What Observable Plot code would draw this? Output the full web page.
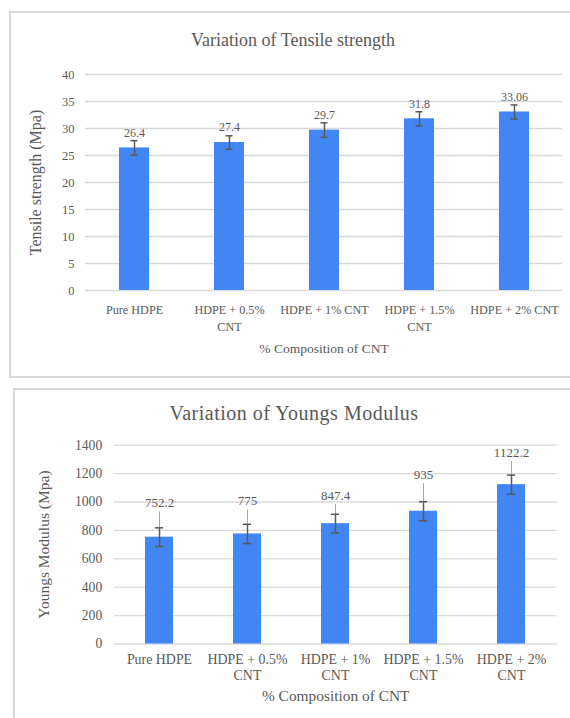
<!DOCTYPE html>
<html>
<head>
<meta charset="utf-8">
<script src="https://cdn.jsdelivr.net/npm/d3@7"></script>
<script src="https://cdn.jsdelivr.net/npm/@observablehq/plot@0.6"></script>
<style>
  html, body { margin: 0; padding: 0; background: #ffffff; overflow: hidden; }
  #page { position: relative; width: 570px; height: 718px; overflow: hidden; background: #fff; }
  .box { position: absolute; border: 2px solid #d9d9d9; box-sizing: border-box; }
  .chart { position: absolute; left: 0; }
  .title { position: absolute; text-align: center; font-family: "Liberation Serif", "Times New Roman", serif; color: #595959; line-height: 1; white-space: nowrap; }
</style>
</head>
<body>
<div id="page">
  <div class="box" style="left:9px; top:11px; width:620px; height:367px;"></div>
  <div class="box" style="left:13px; top:388px; width:620px; height:360px;"></div>
  <div id="c1" class="chart" style="top:0px;"></div>
  <div id="c2" class="chart" style="top:380px;"></div>
  <div class="title" style="left:93px; width:400px; top:31px; font-size:18px;">Variation of Tensile strength</div>
  <div class="title" style="left:94px; width:400px; top:403px; font-size:20px; letter-spacing:0.5px;">Variation of Youngs Modulus</div>
</div>
<script>
// ---- data ----
const categories = ["Pure HDPE", "HDPE + 0.5% CNT", "HDPE + 1% CNT", "HDPE + 1.5% CNT", "HDPE + 2% CNT"];
const tensileTickLabels = ["Pure HDPE", "HDPE + 0.5%\nCNT", "HDPE + 1% CNT", "HDPE + 1.5%\nCNT", "HDPE + 2% CNT"];
const modulusTickLabels = ["Pure HDPE", "HDPE + 0.5%\nCNT", "HDPE + 1%\nCNT", "HDPE + 1.5%\nCNT", "HDPE + 2%\nCNT"];
const tensile = [26.4, 27.4, 29.7, 31.8, 33.06];
const tensileErr = [1.35, 1.25, 1.35, 1.3, 1.3];
const modulus = [752.2, 775, 847.4, 935, 1122.2];
const modulusErr = [66, 68, 66, 67, 67];
const modulusExt = [178, 167, 135, 195, 161];
const tensileTicks = [0, 5, 10, 15, 20, 25, 30, 35, 40];
const modulusTicks = [0, 200, 400, 600, 800, 1000, 1200, 1400];

const BLUE = "#4285F4";
const TXT = "#595959";
const GRID = "#d9d9d9";
const FONT = "'Liberation Serif', 'Times New Roman', serif";

const t = categories.map((c, i) => ({c, v: tensile[i], e: tensileErr[i]}));
const m = categories.map((c, i) => ({c, v: modulus[i], e: modulusErr[i], x: modulusExt[i]}));

const chart1 = Plot.plot({
  width: 570, height: 378,
  marginLeft: 85, marginRight: 8, marginTop: 74, marginBottom: 88,
  style: {fontFamily: FONT, color: TXT, background: "transparent", overflow: "visible"},
  x: {domain: categories, paddingInner: 0.686, paddingOuter: 0.343, label: null},
  y: {domain: [0, 40], label: null},
  marks: [
    Plot.gridY(tensileTicks, {stroke: GRID, strokeOpacity: 1, strokeWidth: 1.3}),
    Plot.axisY(tensileTicks, {tickSize: 0, tickPadding: 11, fontSize: 12.5, label: null, tickFormat: d => String(d)}),
    Plot.axisX({tickSize: 0, tickPadding: 12, fontSize: 12.2, lineHeight: 1.37, label: null,
      tickFormat: c => tensileTickLabels[categories.indexOf(c)]}),
    Plot.barY(t, {x: "c", y: "v", fill: BLUE}),
    Plot.ruleX(t, {x: "c", y1: d => d.v - d.e, y2: d => d.v + d.e, stroke: TXT, strokeWidth: 1.5}),
    Plot.tickY(t, {x: "c", y: d => d.v - d.e, stroke: TXT, strokeWidth: 1.5, insetLeft: 11.5, insetRight: 11.5}),
    Plot.tickY(t, {x: "c", y: d => d.v + d.e, stroke: TXT, strokeWidth: 1.5, insetLeft: 11.5, insetRight: 11.5}),
    Plot.text(t, {x: "c", y: "v", text: d => String(d.v), dy: -15, lineAnchor: "middle", fontSize: 12, fill: TXT}),
    Plot.text(["Tensile strength (Mpa)"], {text: d => d, frameAnchor: "left", textAnchor: "middle", rotate: -90, dx: -50, lineAnchor: "middle", fontSize: 16, fill: TXT}),
    Plot.text(["% Composition of CNT"], {text: d => d, frameAnchor: "bottom", dy: 58, lineAnchor: "middle", fontSize: 13.5, fill: TXT})
  ]
});
document.getElementById("c1").appendChild(chart1);

const chart2 = Plot.plot({
  width: 570, height: 338,
  marginLeft: 113.7, marginRight: 13.3, marginTop: 64.7, marginBottom: 74.5,
  style: {fontFamily: FONT, color: TXT, background: "transparent", overflow: "visible"},
  x: {domain: categories, paddingInner: 0.687, paddingOuter: 0.3435, label: null},
  y: {domain: [0, 1400], label: null},
  marks: [
    Plot.gridY(modulusTicks, {stroke: GRID, strokeOpacity: 1, strokeWidth: 1.3}),
    Plot.axisY(modulusTicks, {tickSize: 0, tickPadding: 12, fontSize: 13.6, label: null, tickFormat: d => String(d)}),
    Plot.axisX({tickSize: 0, tickPadding: 9, fontSize: 13.9, lineHeight: 1.13, label: null,
      tickFormat: c => modulusTickLabels[categories.indexOf(c)]}),
    Plot.barY(m, {x: "c", y: "v", fill: BLUE}),
    Plot.ruleX(m, {x: "c", y1: "v", y2: d => d.v + d.x, stroke: "#a6a6a6", strokeWidth: 1}),
    Plot.ruleX(m, {x: "c", y1: d => d.v - d.e, y2: d => d.v + d.e, stroke: TXT, strokeWidth: 1.5}),
    Plot.tickY(m, {x: "c", y: d => d.v - d.e, stroke: TXT, strokeWidth: 1.5, insetLeft: 9.9, insetRight: 9.9}),
    Plot.tickY(m, {x: "c", y: d => d.v + d.e, stroke: TXT, strokeWidth: 1.5, insetLeft: 9.9, insetRight: 9.9}),
    Plot.text(m, {x: "c", y: d => d.v + d.x, text: d => String(d.v), dy: -9, lineAnchor: "middle", fontSize: 13, fill: TXT}),
    Plot.text(["Youngs Modulus (Mpa)"], {text: d => d, frameAnchor: "left", textAnchor: "middle", rotate: -90, dx: -70, lineAnchor: "middle", fontSize: 15.5, fill: TXT}),
    Plot.text(["% Composition of CNT"], {text: d => d, frameAnchor: "bottom", dy: 52.5, lineAnchor: "middle", fontSize: 15.4, fill: TXT})
  ]
});
document.getElementById("c2").appendChild(chart2);
</script>
</body>
</html>
